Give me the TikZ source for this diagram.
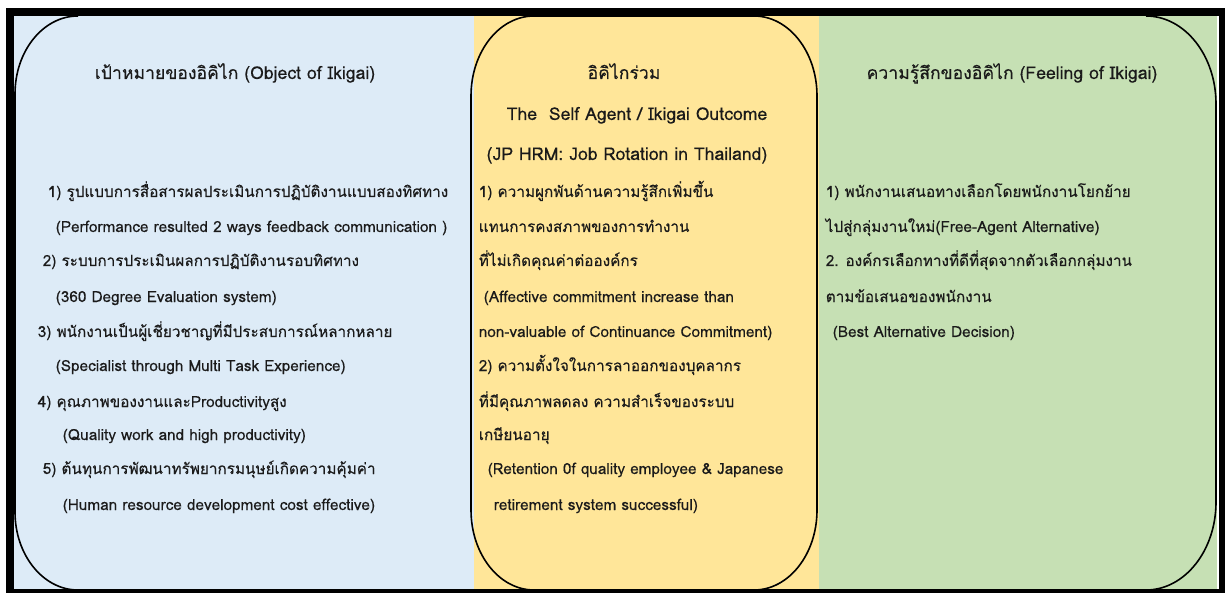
\documentclass[tikz,border=0pt]{standalone}
\usepackage{fontspec}
\setmainfont{Loma}[Script=Thai,FakeBold=0.3]
\definecolor{ink}{HTML}{1A1A1A}
\definecolor{objblue}{HTML}{DDEBF7}
\definecolor{coreyellow}{HTML}{FFE699}
\definecolor{feelgreen}{HTML}{C6E0B4}

\begin{document}
\begin{tikzpicture}[x=1pt,y=-1pt,line width=1.6pt,
 item/.style={anchor=base west,inner sep=0pt,text=ink,font=\fontsize{15.3}{18}\selectfont},
 head/.style={anchor=base,inner sep=0pt,text=ink,font=\fontsize{17.6}{20}\selectfont}]

  \useasboundingbox (0,0) rectangle (1225,593);
  \fill[black] (6,8) rectangle (1225,593);
  \fill[white] (14,16) rectangle (1219,589);
  \fill[objblue] (14,16) rectangle (474,589);
  \fill[coreyellow] (474,16) rectangle (819,589);
  \fill[feelgreen] (819,16) rectangle (1217,589);

  \begin{scope}
    \clip (14,16.8) rectangle (1219,589);
    \draw (78,16) arc[start angle=270,end angle=180,x radius=63,y radius=78]
      -- (15,512) arc[start angle=180,end angle=90,x radius=63,y radius=78];
    \draw (471,510) -- (471,96) arc[start angle=180,end angle=270,x radius=63,y radius=80]
      -- (754,16) arc[start angle=270,end angle=360,x radius=63,y radius=80]
      -- (817,510) arc[start angle=0,end angle=90,x radius=63,y radius=80]
      -- (534,590) arc[start angle=90,end angle=180,x radius=63,y radius=80] -- cycle;
    \draw (1146,16) arc[start angle=270,end angle=360,x radius=70,y radius=88]
      -- (1216,502) arc[start angle=0,end angle=90,x radius=70,y radius=88];
  \end{scope}

  \node[head] (obj) at (235,79) {เป้าหมายของอิคิไก (Object of Ikigai)};
  \node[head] (core) at (624,79) {อิคิไกร่วม};
  \node[head] (agent) at (637,120) {The\ \ Self Agent / Ikigai Outcome};
  \node[head] (jp) at (627,160) {(JP HRM: Job Rotation in Thailand)};
  \node[head] (feel) at (1012,79) {ความรู้สึกของอิคิไก (Feeling of Ikigai)};

  \foreach \x/\y/\t [count=\i] in {47/197/{1) รูปแบบการสื่อสารผลประเมินการปฏิบัติงานแบบสองทิศทาง},
    55/232/{(Performance resulted 2 ways feedback communication )},
    42/266/{2) ระบบการประเมินผลการปฏิบัติงานรอบทิศทาง},
    55/302/{(360 Degree Evaluation system)},
    37/337/{3) พนักงานเป็นผู้เชี่ยวชาญที่มีประสบการณ์หลากหลาย},
    55/371/{(Specialist through Multi Task Experience)},
    37/407/{4) คุณภาพของงานและProductivityสูง},
    62/440/{(Quality work and high productivity)},
    42/474/{5) ต้นทุนการพัฒนาทรัพยากรมนุษย์เกิดความคุ้มค่า},
    62/510/{(Human resource development cost effective)}} {
   \node[item] (l\i) at (\x,\y) {\t};}

  \foreach \x/\y/\t [count=\i] in {478/197/{1) ความผูกพันด้านความรู้สึกเพิ่มขึ้น},
    478/232/{แทนการคงสภาพของการทำงาน},
    478/266/{ที่ไม่เกิดคุณค่าต่อองค์กร},
    483/302/{(Affective commitment increase than},
    478/337/{non-valuable of Continuance Commitment)},
    478/371/{2) ความตั้งใจในการลาออกของบุคลากร},
    478/407/{ที่มีคุณภาพลดลง ความสำเร็จของระบบ},
    478/440/{เกษียนอายุ},
    487/474/{(Retention 0f quality employee \& Japanese},
    493/510/{retirement system successful)}} {
   \node[item] (m\i) at (\x,\y) {\t};}

  \foreach \x/\y/\t [count=\i] in {825/197/{1) พนักงานเสนอทางเลือกโดยพนักงานโยกย้าย},
    825/232/{ไปสู่กลุ่มงานใหม่(Free-Agent Alternative)},
    825/266/{2. องค์กรเลือกทางที่ดีที่สุดจากตัวเลือกกลุ่มงาน},
    825/302/{ตามข้อเสนอของพนักงาน},
    832/337/{(Best Alternative Decision)}} {
   \node[item] (r\i) at (\x,\y) {\t};}
\end{tikzpicture}
\end{document}
